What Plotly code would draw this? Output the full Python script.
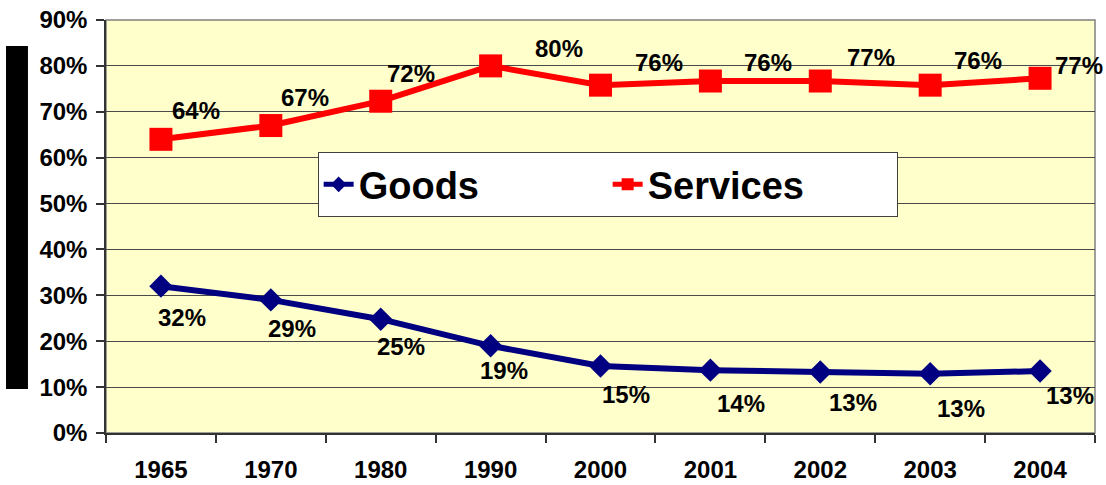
import plotly.graph_objects as go

years = ["1965", "1970", "1980", "1990", "2000", "2001", "2002", "2003", "2004"]
goods = [0.32, 0.29, 0.248, 0.19, 0.146, 0.137, 0.133, 0.129, 0.135]
services = [0.64, 0.67, 0.723, 0.80, 0.758, 0.767, 0.767, 0.758, 0.773]
goods_labels = ["32%", "29%", "25%", "19%", "15%", "14%", "13%", "13%", "13%"]
services_labels = ["64%", "67%", "72%", "80%", "76%", "76%", "77%", "76%", "77%"]

# label offsets in pixels (style only)
svc_dx = [35, 34, 30, 68, 58, 58, 51, 48, 39]
svc_dy = [29, 28, 28, 17, 23, 19, 24, 25, 13]
gds_dx = [21, 21, 20, 13, 25, 31, 33, 31, 30]
gds_dy = [-31, -29, -27, -25, -28, -33, -31, -35, -24]

FONT = "Arial, Liberation Sans, sans-serif"

fig = go.Figure()
fig.add_trace(go.Scatter(
    x=years, y=goods, name="Goods", mode="lines+markers",
    line=dict(color="#000080", width=6),
    marker=dict(symbol="diamond", size=18, color="#000080"),
))
fig.add_trace(go.Scatter(
    x=years, y=services, name="Services", mode="lines+markers",
    line=dict(color="#FF0000", width=6),
    marker=dict(symbol="square", size=23, color="#FF0000"),
))

annotations = []
for i in range(len(years)):
    annotations.append(dict(x=i, y=services[i], xref="x", yref="y", text=services_labels[i],
                            showarrow=False, xshift=svc_dx[i], yshift=svc_dy[i],
                            font=dict(family=FONT, size=24, color="black", weight="bold")))
    annotations.append(dict(x=i, y=goods[i], xref="x", yref="y", text=goods_labels[i],
                            showarrow=False, xshift=gds_dx[i], yshift=gds_dy[i],
                            font=dict(family=FONT, size=24, color="black", weight="bold")))

fig.update_layout(
    width=1106, height=485,
    margin=dict(l=106, r=11, t=20, b=52, autoexpand=False),
    paper_bgcolor="white",
    plot_bgcolor="#FFFFCC",
    annotations=annotations,
    showlegend=True,
    legend=dict(
        orientation="h", x=0.214, y=0.68, xanchor="left", yanchor="top",
        bgcolor="white", bordercolor="#404040", borderwidth=1,
        font=dict(family=FONT, size=38, color="black", weight="bold"),
        entrywidth=244, entrywidthmode="pixels",
        itemsizing="constant",
    ),
    shapes=[
        dict(type="rect", xref="paper", yref="paper", x0=-0.1011, x1=-0.0789,
             y0=0.1065, y1=0.937, fillcolor="black", line=dict(width=0)),
        dict(type="rect", xref="paper", yref="paper", x0=0, x1=1, y0=0, y1=1,
             line=dict(color="#808080", width=1.5), layer="below"),
    ],
)

fig.update_xaxes(
    type="category", range=[-0.5, 8.5], tickson="boundaries", automargin=False,
    ticks="outside", ticklen=8, tickcolor="#333333", tickwidth=1.5,
    showgrid=False, showline=True, linecolor="#333333", linewidth=1.5,
    ticklabelstandoff=14,
    tickfont=dict(family=FONT, size=24, color="black", weight="bold"),
)
fig.update_yaxes(
    range=[0, 0.9], dtick=0.1, tickformat=".0%", automargin=False,
    ticks="outside", ticklen=8, tickcolor="#333333", tickwidth=1.5,
    showgrid=True, gridcolor="#4a4a4a", gridwidth=1,
    showline=True, linecolor="#333333", linewidth=1.5,
    zeroline=False, ticklabelstandoff=4,
    tickfont=dict(family=FONT, size=24, color="black", weight="bold"),
)

fig.write_html("out.html", config={"displayModeBar": False},
               post_script="document.body.style.margin='0';document.body.style.overflow='hidden';")
